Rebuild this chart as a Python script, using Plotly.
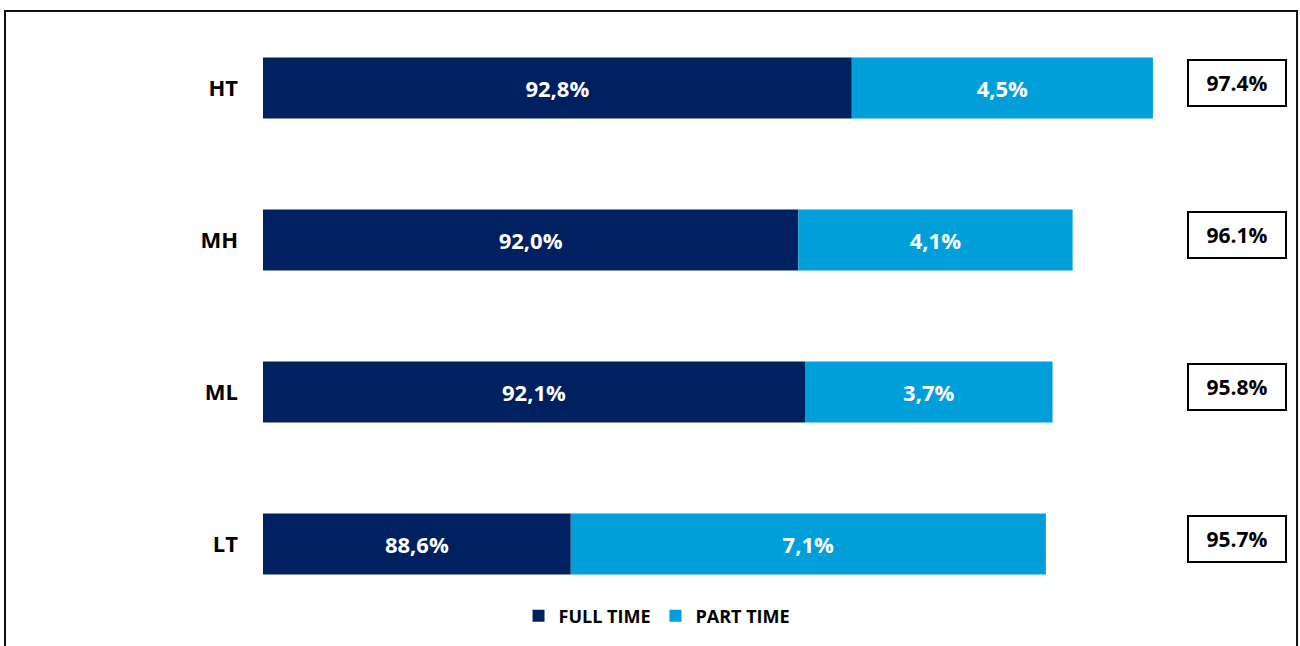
import plotly.graph_objects as go

# data
categories = ["HT", "MH", "ML", "LT"]
full_time = [92.8, 92.0, 92.1, 88.6]
part_time = [4.5, 4.1, 3.7, 7.1]
totals = [97.4, 96.1, 95.8, 95.7]
axis_start = 84

NAVY = "#002060"
LIGHT = "#009FDA"
FONT = "Open Sans"


def pct_comma(v):
    return f"{v:.1f}".replace(".", ",") + "%"


fig = go.Figure()
fig.add_trace(go.Bar(
    name="FULL TIME", y=categories, orientation="h",
    x=[v - axis_start for v in full_time], base=axis_start,
    marker=dict(color=NAVY, line=dict(width=0)),
    text=[pct_comma(v) for v in full_time],
    textposition="inside", insidetextanchor="middle",
    textfont=dict(family=FONT, size=22, color="white", weight="bold"),
    width=0.4,
))
fig.add_trace(go.Bar(
    name="PART TIME", y=categories, orientation="h",
    x=part_time, base=full_time,
    marker=dict(color=LIGHT, line=dict(width=0)),
    text=[pct_comma(v) for v in part_time],
    textposition="inside", insidetextanchor="middle",
    textfont=dict(family=FONT, size=22, color="white", weight="bold"),
    width=0.4,
))

# totals in boxes on the right
for cat, tot in zip(categories, totals):
    fig.add_annotation(
        x=1.07, xref="paper", xanchor="center", y=cat, yref="y", yshift=5,
        text=f"<b>{tot:.1f}%</b>", showarrow=False,
        font=dict(family=FONT, size=21, color="black"),
        width=96, height=44, borderpad=0, borderwidth=2,
        bordercolor="black", bgcolor="white",
    )

# frame around the whole chart
fig.add_shape(type="rect", xref="paper", yref="paper",
              x0=-0.2835, x1=1.1363, y0=-0.2, y1=1.0016,
              line=dict(color="#111111", width=2), fillcolor="rgba(0,0,0,0)")

fig.update_layout(
    width=1300, height=646,
    margin=dict(l=263, r=127, t=12, b=25),
    barmode="overlay",
    plot_bgcolor="white", paper_bgcolor="white",
    font=dict(family=FONT),
    showlegend=True,
    legend=dict(orientation="h", x=0.433, xanchor="center", y=0.008, yanchor="middle",
                font=dict(family=FONT, size=18, color="black", weight="bold"),
                itemwidth=30, traceorder="normal"),
    xaxis=dict(range=[axis_start, 97.6], visible=False, fixedrange=True),
    yaxis=dict(autorange="reversed", showgrid=False, showline=False, ticks="",
               ticklabelstandoff=24,
               tickfont=dict(family=FONT, size=22, color="black", weight="bold")),
)

# drop the default 8px body margin so the figure fills the window
fig.write_html("out.html", config={"displayModeBar": False},
               post_script="document.body.style.margin='0';")
